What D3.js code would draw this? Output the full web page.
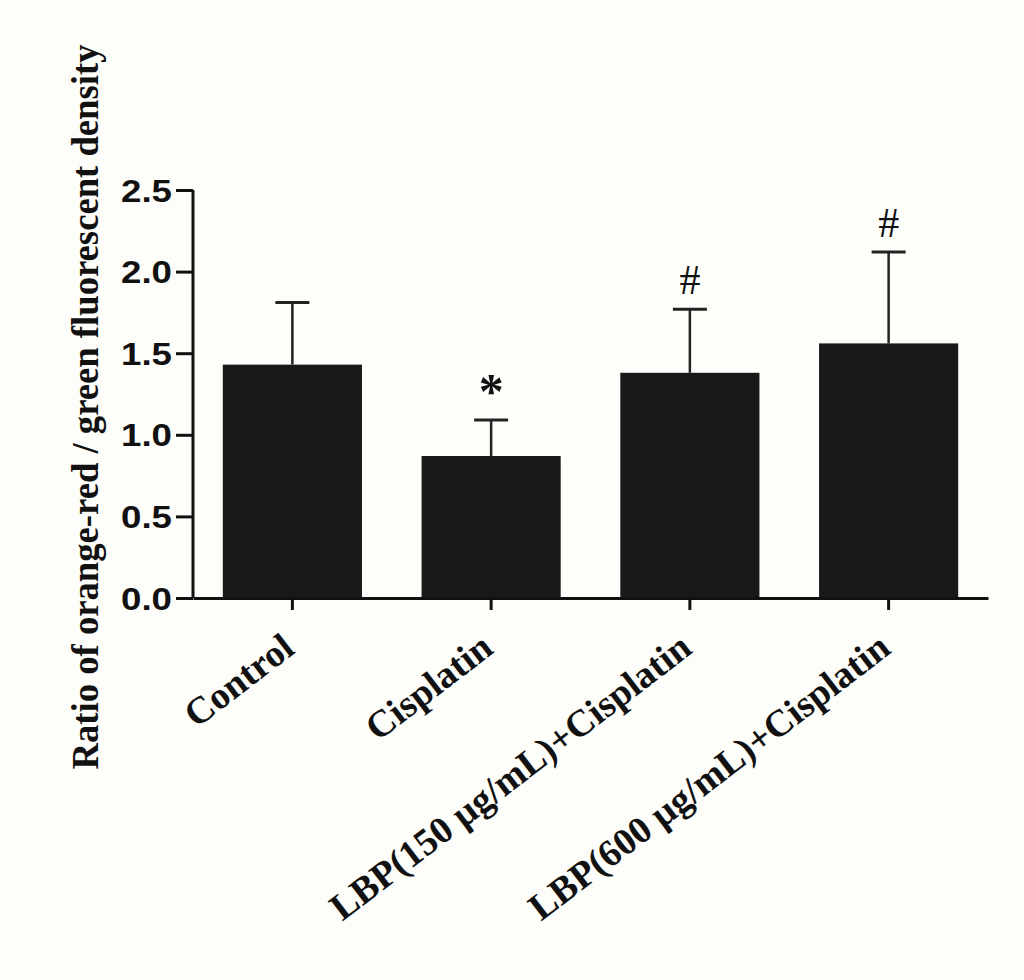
<!DOCTYPE html>
<html>
<head>
<meta charset="utf-8">
<script src="https://cdn.jsdelivr.net/npm/d3@7"></script>
<style>
  body { margin: 0; background: #fdfdfa; }
</style>
</head>
<body>
<script>
// data
const groups = ["Control", "Cisplatin", "LBP(150 μg/mL)+Cisplatin", "LBP(600 μg/mL)+Cisplatin"];
const means = [1.43, 0.87, 1.38, 1.56];
const errors = [0.38, 0.22, 0.39, 0.56];
const marks = ["", "*", "#", "#"];
const yTicks = [0, 0.5, 1.0, 1.5, 2.0, 2.5];

const width = 1024, height = 980;

const svg = d3.select("body").append("svg")
    .attr("width", width)
    .attr("height", height)
    .style("background-color", "#fdfdfa");

const x = d3.scaleBand()
    .domain(groups)
    .range([193, 988])
    .paddingInner(0.3)
    .paddingOuter(0.15);

const y = d3.scaleLinear()
    .domain([0, 2.5])
    .range([598, 190]);

// bars
svg.selectAll(".bar")
    .data(groups)
    .enter()
    .append("rect")
    .attr("class", "bar")
    .attr("x", d => x(d))
    .attr("y", (d, i) => y(means[i]))
    .attr("width", x.bandwidth())
    .attr("height", (d, i) => y(0) - y(means[i]))
    .attr("fill", "#181818");

// error bars (upper only)
const cx = d => x(d) + x.bandwidth() / 2;
svg.selectAll(".err")
    .data(groups)
    .enter()
    .append("line")
    .attr("x1", cx).attr("x2", cx)
    .attr("y1", (d, i) => y(means[i]))
    .attr("y2", (d, i) => y(means[i] + errors[i]))
    .attr("stroke", "#222")
    .attr("stroke-width", 2.5);

svg.selectAll(".cap")
    .data(groups)
    .enter()
    .append("line")
    .attr("x1", d => cx(d) - 17).attr("x2", d => cx(d) + 17)
    .attr("y1", (d, i) => y(means[i] + errors[i]))
    .attr("y2", (d, i) => y(means[i] + errors[i]))
    .attr("stroke", "#222")
    .attr("stroke-width", 3);

// significance marks
svg.selectAll(".mark")
    .data(groups)
    .enter()
    .append("text")
    .attr("x", cx)
    .attr("y", (d, i) => y(means[i] + errors[i]) - (marks[i] == "*" ? 12 : 15))
    .attr("text-anchor", "middle")
    .attr("font-family", "Liberation Serif, Times New Roman, serif")
    .attr("font-weight", (d, i) => marks[i] == "*" ? "bold" : "normal")
    .attr("font-size", (d, i) => marks[i] == "*" ? 50 : 42)
    .attr("fill", "#111")
    .text((d, i) => marks[i]);

// y axis
const yAxis = svg.append("g")
    .attr("transform", "translate(193,0)")
    .call(d3.axisLeft(y).tickValues(yTicks).tickFormat(d3.format(".1f")).tickSize(17).tickPadding(4));
yAxis.select(".domain").attr("stroke", "#111").attr("stroke-width", 3).attr("d", "M0,190V598");
yAxis.selectAll(".tick line").attr("stroke", "#111").attr("stroke-width", 3);
yAxis.selectAll(".tick text")
    .attr("font-family", "Liberation Sans, Arial, sans-serif")
    .attr("font-weight", "bold")
    .attr("font-size", 31)
    .attr("textLength", 51)
    .attr("lengthAdjust", "spacingAndGlyphs")
    .attr("fill", "#111")
    .attr("dy", "0.36em");

// x axis
const xAxis = svg.append("g")
    .attr("transform", "translate(0,598)")
    .call(d3.axisBottom(x).tickSize(12).tickSizeOuter(0));
xAxis.select(".domain").attr("stroke", "#111").attr("stroke-width", 3);
xAxis.selectAll(".tick line").attr("stroke", "#111").attr("stroke-width", 3);
xAxis.selectAll(".tick text").remove();

svg.selectAll(".xlabel")
    .data(groups)
    .enter()
    .append("text")
    .attr("transform", d => "translate(" + (cx(d) + 4) + ",652) rotate(-37.5)")
    .attr("text-anchor", "end")
    .attr("font-family", "Liberation Serif, Times New Roman, serif")
    .attr("font-weight", "bold")
    .attr("font-size", 38)
    .attr("fill", "#111")
    .text(d => d);

// y title
svg.append("text")
    .attr("transform", "translate(98,407) rotate(-90)")
    .attr("text-anchor", "middle")
    .attr("font-family", "Liberation Serif, Times New Roman, serif")
    .attr("font-weight", "bold")
    .attr("font-size", 38)
    .attr("textLength", 725)
    .attr("lengthAdjust", "spacingAndGlyphs")
    .attr("fill", "#111")
    .text("Ratio of orange-red / green fluorescent density");
</script>
</body>
</html>
